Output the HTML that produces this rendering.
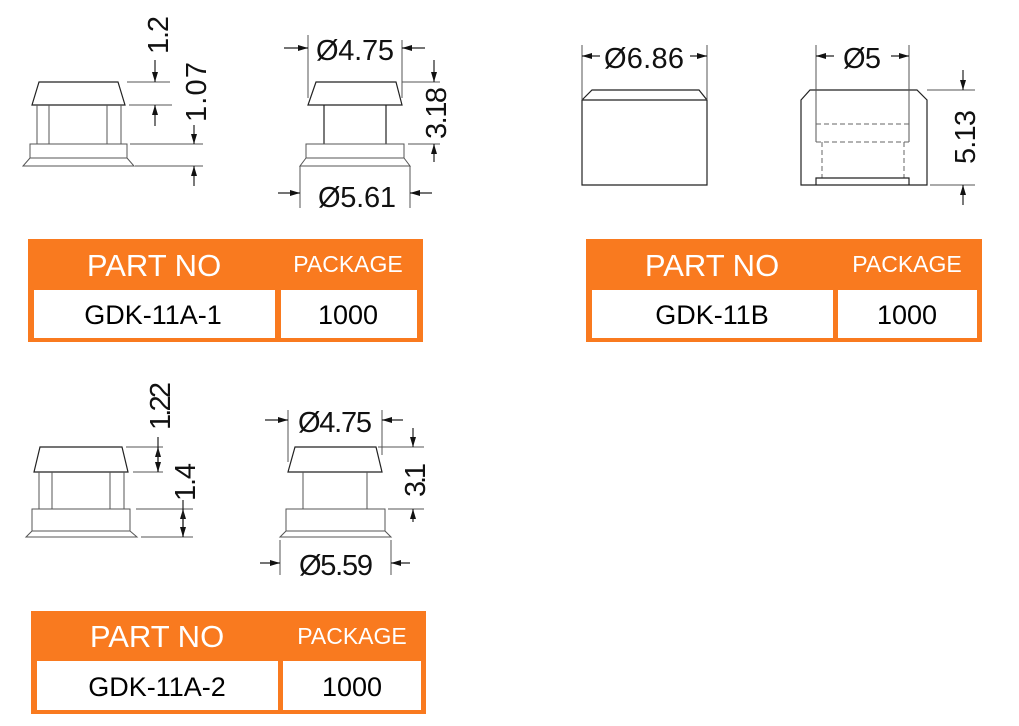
<!DOCTYPE html>
<html><head><meta charset="utf-8"><style>
html,body{margin:0;padding:0;background:#fff;}
svg{display:block}
.l{stroke:#222;stroke-width:1.2;fill:none}
.g{stroke:#555;stroke-width:1;fill:none}
.d{stroke:#666;stroke-width:1;fill:none;stroke-dasharray:5 3}
.t{font-family:"Liberation Sans",sans-serif;font-size:29px;fill:#111}
.h{font-family:"Liberation Sans",sans-serif;fill:#fff}
.c{font-family:"Liberation Sans",sans-serif;font-size:27px;fill:#000}
</style></head><body>
<svg width="1019" height="726" viewBox="0 0 1019 726" xmlns="http://www.w3.org/2000/svg">
<defs>
<marker id="a" viewBox="0 0 10 6" refX="10" refY="3" markerWidth="10" markerHeight="6" orient="auto" markerUnits="userSpaceOnUse"><path d="M0,0 L10,3 L0,6z" fill="#111"/></marker>
</defs>

<!-- Drawing 1 -->
<path class="l" d="M39,82 H118 L125,105 H32 Z"/>
<path class="g" d="M37,105 V144 M49,105 V144 M107,105 V144 M121,105 V144"/>
<rect class="g" x="30" y="144" width="97" height="14"/>
<path class="g" d="M30,158 L23,166 H134 L127,158"/>
<path class="g" d="M127,82 H170 M129,105 H172 M130,144 H203 M135,166 H203"/>
<path class="l" d="M155,60 V82" marker-end="url(#a)"/>
<path class="l" d="M155,126 V105" marker-end="url(#a)"/>
<path class="l" d="M194,125 V144" marker-end="url(#a)"/>
<path class="l" d="M194,186 V166" marker-end="url(#a)"/>
<text class="t" transform="translate(168,35) rotate(-90)" text-anchor="middle" textLength="38" lengthAdjust="spacing">1.2</text>
<text class="t" transform="translate(206,92) rotate(-90)" text-anchor="middle" textLength="60" lengthAdjust="spacing">1.07</text>

<!-- Drawing 2 -->
<path class="l" d="M316,82 H396 L402,105 H308 Z"/>
<path class="l" d="M324,105 V144 M386,105 V144"/>
<rect class="g" x="306" y="144" width="98" height="14"/>
<path class="g" d="M306,158 L300,166 H410 L404,158"/>
<path class="g" d="M308,35 V98 M402,40 V98"/>
<path class="l" d="M284,48 H308" marker-end="url(#a)"/>
<path class="l" d="M425,48 H402" marker-end="url(#a)"/>
<text class="t" x="355" y="60" text-anchor="middle" textLength="78" lengthAdjust="spacing">Ø4.75</text>
<path class="g" d="M402,82 H440 M408,144 H440"/>
<path class="l" d="M434,60 V82" marker-end="url(#a)"/>
<path class="l" d="M434,162 V144" marker-end="url(#a)"/>
<text class="t" transform="translate(446,113) rotate(-90)" text-anchor="middle" textLength="52" lengthAdjust="spacing">3.18</text>
<path class="g" d="M300,166 V208 M410,166 V208"/>
<path class="l" d="M278,193 H300" marker-end="url(#a)"/>
<path class="l" d="M432,193 H410" marker-end="url(#a)"/>
<text class="t" x="357" y="207" text-anchor="middle" textLength="78" lengthAdjust="spacing">Ø5.61</text>

<!-- Drawing 3 -->
<path class="l" d="M582,100 L592,90 H699 L707,100 V185 H582 Z M582,100 H707"/>
<path class="g" d="M582,45 V100 M707,45 V100"/>
<path class="l" d="M600,56 H582" marker-end="url(#a)"/>
<path class="l" d="M690,56 H707" marker-end="url(#a)"/>
<text class="t" x="644" y="68" text-anchor="middle" textLength="80" lengthAdjust="spacing">Ø6.86</text>

<!-- Drawing 4 -->
<path class="l" d="M801,100 L810,90 H917 L927,100 V185 H801 Z"/>
<path class="g" d="M816,45 V142 M909,45 V142"/>
<path class="d" d="M816,124 H909 M816,142 H909 M822,142 V178 M904,142 V178 M816,178 H909"/>
<path class="l" d="M816,185 V178 H909 V185"/>
<path class="l" d="M834,56 H816" marker-end="url(#a)"/>
<path class="l" d="M891,56 H909" marker-end="url(#a)"/>
<text class="t" x="862" y="68" text-anchor="middle" textLength="38" lengthAdjust="spacing">Ø5</text>
<path class="g" d="M927,90 H975 M930,185 H975"/>
<path class="l" d="M963,70 V90" marker-end="url(#a)"/>
<path class="l" d="M963,205 V185" marker-end="url(#a)"/>
<text class="t" transform="translate(975,137) rotate(-90)" text-anchor="middle" textLength="54" lengthAdjust="spacing">5.13</text>

<!-- Drawing 5 -->
<path class="l" d="M40,447 H122 L128,472 H34 Z"/>
<path class="g" d="M39,472 V509 M52,472 V509 M110,472 V509 M124,472 V509"/>
<rect class="g" x="32" y="509" width="98" height="22"/>
<path class="g" d="M32,531 L26,537 H137 L130,531"/>
<path class="g" d="M126,447 H163 M133,472 H163 M136,509 H193 M141,537 H193"/>
<path class="l" d="M158,437 V447 M158,472 V447" marker-end="url(#a)"/>
<path class="l" d="M158,447 V472" marker-end="url(#a)"/>
<path class="l" d="M183,500 V509 M183,537 V509" marker-end="url(#a)"/>
<path class="l" d="M183,509 V537" marker-end="url(#a)"/>
<text class="t" transform="translate(170,406) rotate(-90)" text-anchor="middle" textLength="48" lengthAdjust="spacing">1.22</text>
<text class="t" transform="translate(195,482) rotate(-90)" text-anchor="middle" textLength="38" lengthAdjust="spacing">1.4</text>

<!-- Drawing 6 -->
<path class="l" d="M295,447 H376 L382,472 H288 Z"/>
<path class="g" d="M303,472 V509 M367,472 V509"/>
<rect class="g" x="286" y="509" width="99" height="22"/>
<path class="g" d="M286,531 L280,537 H391 L385,531"/>
<path class="g" d="M288,410 V462 M382,410 V455"/>
<path class="l" d="M265,420 H288" marker-end="url(#a)"/>
<path class="l" d="M403,420 H382" marker-end="url(#a)"/>
<text class="t" x="335" y="432" text-anchor="middle" textLength="74" lengthAdjust="spacing">Ø4.75</text>
<path class="g" d="M378,447 H424 M388,509 H424"/>
<path class="l" d="M413,428 V447" marker-end="url(#a)"/>
<path class="l" d="M413,522 V509" marker-end="url(#a)"/>
<text class="t" transform="translate(425,480) rotate(-90)" text-anchor="middle" textLength="34" lengthAdjust="spacing">3.1</text>
<path class="g" d="M280,540 V575 M391,540 V575"/>
<path class="l" d="M260,563 H280" marker-end="url(#a)"/>
<path class="l" d="M410,563 H391" marker-end="url(#a)"/>
<text class="t" x="336" y="575" text-anchor="middle" textLength="74" lengthAdjust="spacing">Ø5.59</text>

<!-- Table 1 -->
<rect x="28" y="239" width="395" height="103" fill="#F97A1F"/>
<rect x="34" y="290" width="241" height="48" fill="#fff"/>
<rect x="281" y="290" width="136" height="48" fill="#fff"/>
<text class="h" x="154" y="276" font-size="31" text-anchor="middle">PART NO</text>
<text class="h" x="348" y="272" font-size="23" text-anchor="middle">PACKAGE</text>
<text class="c" x="153" y="324" text-anchor="middle">GDK-11A-1</text>
<text class="c" x="348" y="324" text-anchor="middle">1000</text>

<!-- Table 2 -->
<rect x="586" y="239" width="396" height="103" fill="#F97A1F"/>
<rect x="592" y="290" width="241" height="48" fill="#fff"/>
<rect x="838" y="290" width="139" height="48" fill="#fff"/>
<text class="h" x="712" y="276" font-size="31" text-anchor="middle">PART NO</text>
<text class="h" x="907" y="272" font-size="23" text-anchor="middle">PACKAGE</text>
<text class="c" x="712" y="324" text-anchor="middle">GDK-11B</text>
<text class="c" x="907" y="324" text-anchor="middle">1000</text>

<!-- Table 3 -->
<rect x="31" y="611" width="395" height="103" fill="#F97A1F"/>
<rect x="37" y="661" width="241" height="49" fill="#fff"/>
<rect x="283" y="661" width="138" height="49" fill="#fff"/>
<text class="h" x="157" y="647" font-size="31" text-anchor="middle">PART NO</text>
<text class="h" x="352" y="644" font-size="23" text-anchor="middle">PACKAGE</text>
<text class="c" x="157" y="696" text-anchor="middle">GDK-11A-2</text>
<text class="c" x="352" y="696" text-anchor="middle">1000</text>
</svg>
</body></html>
